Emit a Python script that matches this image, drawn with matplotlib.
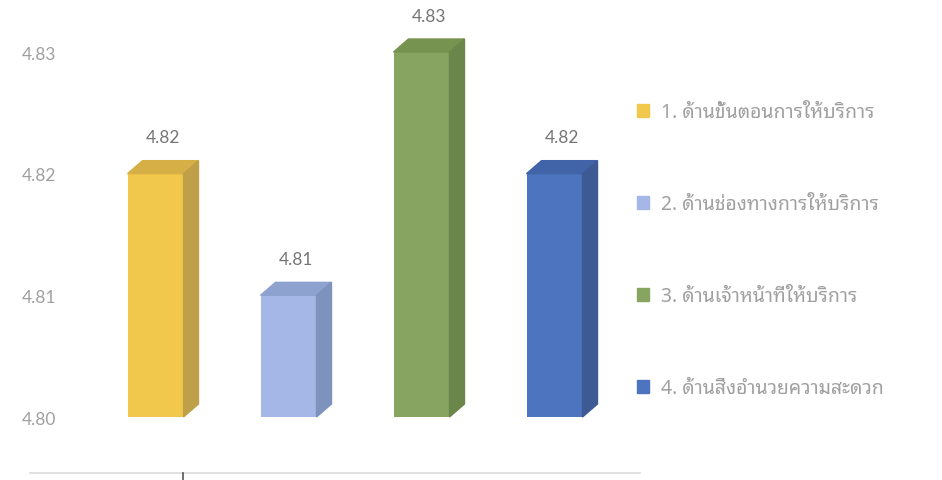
import matplotlib
matplotlib.use('Agg')
import matplotlib.pyplot as plt
from matplotlib.patches import Polygon
from matplotlib.lines import Line2D

# Data ------------------------------------------
categories = ['1. ด้านขั้นตอนการให้บริการ',
              '2. ด้านช่องทางการให้บริการ',
              '3. ด้านเจ้าหน้าที่ให้บริการ',
              '4. ด้านสิ่งอำนวยความสะดวก']
values = [4.82, 4.81, 4.83, 4.82]
yticks = [4.80, 4.81, 4.82, 4.83]
# Styles ----------------------------------------
front_colors = ['#F2C84C', '#A5B7E6', '#87A560', '#4C74BF']
top_colors = ['#D6B046', '#8EA2D0', '#76934F', '#4164A8']
side_colors = ['#BFA048', '#7D92BD', '#6A864A', '#3D5A94']
thai_font = ['Noto Sans Thai Looped', 'DejaVu Sans']
num_font = ['Lato', 'DejaVu Sans']

W, H = 942, 481
fig = plt.figure(figsize=(W / 100, H / 100), dpi=100)
ax = fig.add_axes([70 / W, 0, 1 - 70 / W, 1])

# pixel mapping of the reference: bar i centre at 155.5 + 133 i, 4.80 at y=418, 4.83 at y=53
px_x = 133.0
px_y = 365 / 0.03
ax.set_xlim((70 - 155.5) / px_x, (W - 155.5) / px_x)
ax.set_ylim(4.80 - (H - 418) / px_y, 4.83 + 53 / px_y)

x = list(range(len(values)))
bars = ax.bar(x, [v - 4.80 for v in values], bottom=4.80, width=56 / px_x,
              color=front_colors, label='_nolegend_', zorder=2)

dx = 15 / px_x
dy = 13 / px_y
for k, b in enumerate(bars):
    x0, x1 = b.get_x(), b.get_x() + b.get_width()
    y0, y1 = b.get_y(), b.get_y() + b.get_height()
    ax.add_patch(Polygon([(x0, y1), (x0 + dx, y1 + dy), (x1 + dx, y1 + dy), (x1, y1)],
                         closed=True, color=top_colors[k], zorder=2))
    ax.add_patch(Polygon([(x1, y0), (x1, y1), (x1 + dx, y1 + dy), (x1 + dx, y0 + dy)],
                         closed=True, color=side_colors[k], zorder=2))
    ax.annotate(f'{values[k]:.2f}', (x0 + (x1 - x0 + dx) / 2, y1 + dy), xytext=(0, 11),
                textcoords='offset points', ha='center', va='bottom',
                fontsize=12.5, color='#757575', family=num_font)

ax.set_yticks(yticks)
ax.set_yticklabels([f'{t:.2f}' for t in yticks], family=num_font)
ax.tick_params(axis='y', length=0, pad=10, labelsize=12.5, labelcolor='#a0a0a0')
ax.set_xticks([])
for s in ax.spines.values():
    s.set_visible(False)

# Legend ----------------------------------------
handles = [plt.Rectangle((0, 0), 1, 1, color=c) for c in front_colors]
leg = fig.legend(handles, categories, loc='upper left', bbox_to_anchor=(619 / W, 1 - 86 / H),
                 frameon=False, handlelength=0.65, handleheight=0.65, handletextpad=0.6,
                 labelspacing=3.7, prop={'family': thai_font, 'size': 14, 'weight': 'light'})
for t in leg.get_texts():
    t.set_color('#a0a0a0')

# bottom border line and small tick
fig.add_artist(Line2D([30 / W, 640 / W], [1 - 474 / H, 1 - 474 / H], color='#dcdcdc', lw=1.2))
fig.add_artist(Line2D([183 / W, 183 / W], [0, 1 - 474 / H], color='#555555', lw=1.2))

fig.savefig('out.png', dpi=100)
